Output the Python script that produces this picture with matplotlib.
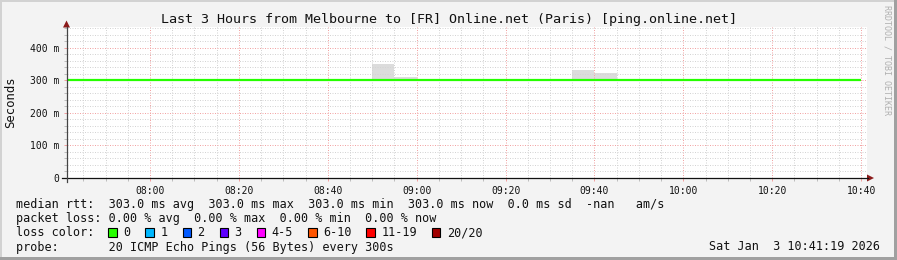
import datetime as dt
import matplotlib
matplotlib.use('Agg')
import matplotlib.pyplot as plt
import matplotlib.dates as mdates
from matplotlib.patches import Rectangle, Polygon
from matplotlib.lines import Line2D
from matplotlib.ticker import MultipleLocator, FuncFormatter

# ---------------- data ----------------
title = "Last 3 Hours from Melbourne to [FR] Online.net (Paris) [ping.online.net]"
y_label = "Seconds"
watermark = "RRDTOOL / TOBI OETIKER"
graph_date = (2026, 1, 3)
window_start = (7, 41, 19)
window_end = (10, 41, 19)
first_step = (7, 40)
step_minutes = 5

# median RTT per 5-minute step (ms), 07:40 .. 10:35 step starts
median_ms = [303.0, 303.0, 303.0, 303.0, 303.0, 303.0, 303.0, 303.0, 303.0,
             303.0, 303.0, 303.0, 303.0, 303.0, 303.0, 303.0, 303.0, 303.0,
             303.0, 303.0, 303.0, 303.0, 303.0, 303.0, 303.0, 303.0, 303.0,
             303.0, 303.0, 303.0, 303.0, 303.0, 303.0, 303.0, 303.0, 303.0]
# smoke (lowest ping) per step (ms)
smoke_low_ms = [303.0, 303.0, 303.0, 303.0, 303.0, 303.0, 303.0, 303.0, 303.0,
                303.0, 303.0, 303.0, 303.0, 303.0, 303.0, 303.0, 303.0, 303.0,
                303.0, 303.0, 303.0, 303.0, 303.0, 303.0, 303.0, 303.0, 303.0,
                303.0, 303.0, 303.0, 303.0, 303.0, 303.0, 303.0, 303.0, 303.0]
# smoke (highest ping) per step (ms)
smoke_high_ms = [303.0, 303.0, 303.0, 303.0, 303.0, 303.0, 303.0, 303.0, 303.0,
                 303.0, 303.0, 303.0, 303.0, 303.0, 351.0, 310.0, 303.0, 303.0,
                 303.0, 303.0, 303.0, 303.0, 303.0, 332.0, 323.0, 303.0, 303.0,
                 303.0, 303.0, 303.0, 303.0, 303.0, 303.0, 303.0, 303.0, 303.0]

legend_rows = [
    "median rtt:  303.0 ms avg  303.0 ms max  303.0 ms min  303.0 ms now  0.0 ms sd  -nan   am/s",
    "packet loss: 0.00 % avg  0.00 % max  0.00 % min  0.00 % now",
    "loss color:",
    "probe:       20 ICMP Echo Pings (56 Bytes) every 300s",
]
loss_labels = ["0", "1", "2", "3", "4-5", "6-10", "11-19", "20/20"]
loss_colors = ['#26ff00', '#00b8ff', '#0059ff', '#5e00ff', '#ff00ff',
               '#ff5500', '#ff0000', '#a10000']
timestamp_text = "Sat Jan  3 10:41:19 2026"

# ---------------- layout ----------------
W, H, DPI = 897, 260, 100
MONO = 'DejaVu Sans Mono'
fig = plt.figure(figsize=(W / DPI, H / DPI), dpi=DPI, facecolor='#f3f3f3')


def fx(x):
    return x / W


def fy(y):
    return 1 - y / H


PL, PR, PT, PB = 67, 867, 27, 178
ax = fig.add_axes([fx(PL), fy(PB), (PR - PL) / W, (PB - PT) / H])
ax.set_facecolor('white')
for s in ax.spines.values():
    s.set_visible(False)

day = dt.date(*graph_date)
t0 = dt.datetime.combine(day, dt.time(*first_step))
edges = [t0 + dt.timedelta(minutes=step_minutes * i) for i in range(len(median_ms) + 1)]
xe = mdates.date2num(edges)
med = [v / 1000 for v in median_ms] + [median_ms[-1] / 1000]
lo = [v / 1000 for v in smoke_low_ms] + [smoke_low_ms[-1] / 1000]
hi = [v / 1000 for v in smoke_high_ms] + [smoke_high_ms[-1] / 1000]

ax.fill_between(xe, lo, hi, step='post', color='#dcdcdc', lw=0, zorder=1)
ax.step(xe, med, where='post', color='#26ff00', lw=1.6, zorder=4,
        solid_capstyle='butt')

ax.set_xlim(mdates.date2num(dt.datetime.combine(day, dt.time(*window_start))),
            mdates.date2num(dt.datetime.combine(day, dt.time(*window_end))))
ax.set_ylim(0, 0.4646)

ax.xaxis.set_major_locator(mdates.MinuteLocator(byminute=[0, 20, 40]))
ax.xaxis.set_minor_locator(mdates.MinuteLocator(byminute=range(0, 60, 5)))
ax.xaxis.set_major_formatter(mdates.DateFormatter('%H:%M'))
ax.yaxis.set_major_locator(MultipleLocator(0.1))
ax.yaxis.set_minor_locator(MultipleLocator(0.02))
ax.yaxis.set_major_formatter(FuncFormatter(
    lambda v, p: "0" if abs(v) < 1e-9 else "%d m" % round(v * 1000)))

ax.set_axisbelow(False)
ax.grid(which='minor', color='#d4d4d4', linestyle=(0, (1, 1.5)), lw=0.72)
ax.grid(which='major', color='#f2a4a4', linestyle=(0, (1, 1.5)), lw=0.72)

ax.tick_params(which='both', direction='out', width=0.72)
ax.tick_params(which='minor', length=2.5, color='#bdbdbd')
ax.tick_params(which='major', length=2.5, color='#f2a0a0')
ax.tick_params(axis='x', which='major', pad=3.5, labelsize=7)
ax.tick_params(axis='y', which='major', pad=3.2, labelsize=7)
for lab in ax.get_xticklabels() + ax.get_yticklabels():
    lab.set_family(MONO)
    lab.set_color('#111111')

# axis lines and arrows
fig.add_artist(Line2D([fx(62), fx(868)], [fy(PB), fy(PB)], transform=fig.transFigure,
                      color='#111111', lw=0.9))
fig.add_artist(Line2D([fx(66.5), fx(66.5)], [fy(182), fy(PT)], transform=fig.transFigure,
                      color='#444444', lw=0.9))
fig.add_artist(Polygon([(fx(867), fy(174.5)), (fx(874), fy(178)), (fx(867), fy(181.5))],
                       closed=True, transform=fig.transFigure, color='#8b1a1a', lw=0))
fig.add_artist(Polygon([(fx(63), fy(27.5)), (fx(66.5), fy(20.5)), (fx(70), fy(27.5))],
                       closed=True, transform=fig.transFigure, color='#8b1a1a', lw=0))

# frame shading
fig.add_artist(Rectangle((0, fy(2)), 1, 2 / H, transform=fig.transFigure,
                         color='#d2d2d2', lw=0))
fig.add_artist(Rectangle((0, 0), 2 / W, 1, transform=fig.transFigure,
                         color='#d2d2d2', lw=0))
fig.add_artist(Rectangle((0, 0), 1, 3 / H, transform=fig.transFigure,
                         color='#a0a0a0', lw=0))
fig.add_artist(Rectangle((fx(W - 3), 0), 3 / W, 1, transform=fig.transFigure,
                         color='#a0a0a0', lw=0))

# texts
fig.text(0.5, fy(23.5), title, ha='center', va='baseline', family=MONO,
         fontsize=9.6, color='#111111')
fig.text(fx(11), fy((PT + PB) / 2), y_label, rotation=90, ha='center', va='center',
         family=MONO, fontsize=8.8, color='#111111')
fig.text(fx(887), fy(60), watermark, rotation=270, ha='center', va='center',
         family=MONO, fontsize=6, color='#b0b0b0')

row_y = [204, 218, 232, 246.5]
for txt, y in zip(legend_rows, row_y):
    fig.text(fx(16), fy(y + 4), txt, ha='left', va='baseline', family=MONO,
             fontsize=8.5, color='#111111')
fig.text(fx(880), fy(row_y[3] + 4), timestamp_text, ha='right', va='baseline',
         family=MONO, fontsize=8.5, color='#111111')

cw = 7.1
bx = 16 + 13 * cw
for lab, col in zip(loss_labels, loss_colors):
    fig.add_artist(Rectangle((fx(bx), fy(row_y[2] + 4.5)), 8.5 / W, 8.5 / H,
                             transform=fig.transFigure, facecolor=col,
                             edgecolor='black', lw=0.8))
    fig.text(fx(bx + 15), fy(row_y[2] + 4), lab, ha='left', va='baseline',
             family=MONO, fontsize=8.5, color='#111111')
    bx += 30 + cw * len(lab)

fig.savefig('out.png', dpi=DPI, facecolor=fig.get_facecolor())
